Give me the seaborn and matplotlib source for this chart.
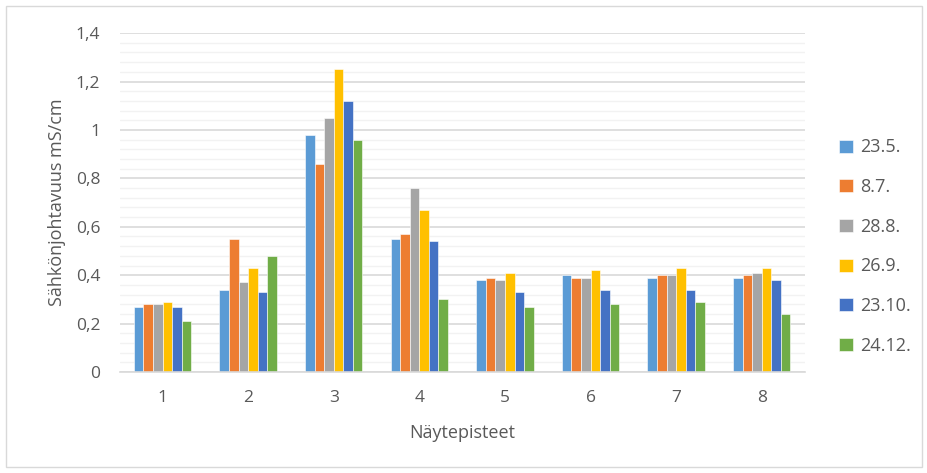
import numpy as np
import pandas as pd
import matplotlib
matplotlib.use("Agg")
import matplotlib.pyplot as plt
import seaborn as sns
from matplotlib.patches import Rectangle
from matplotlib.ticker import MultipleLocator, FuncFormatter

# Sample points and measurement dates
points = ["1", "2", "3", "4", "5", "6", "7", "8"]
dates = ["23.5.", "8.7.", "28.8.", "26.9.", "23.10.", "24.12."]

# Conductivity (mS/cm) per date, one value per sample point
v_23_5 = [0.27, 0.34, 0.98, 0.55, 0.38, 0.40, 0.39, 0.39]
v_8_7 = [0.28, 0.55, 0.86, 0.57, 0.39, 0.39, 0.40, 0.40]
v_28_8 = [0.28, 0.37, 1.05, 0.76, 0.38, 0.39, 0.40, 0.41]
v_26_9 = [0.29, 0.43, 1.25, 0.67, 0.41, 0.42, 0.43, 0.43]
v_23_10 = [0.27, 0.33, 1.12, 0.54, 0.33, 0.34, 0.34, 0.38]
v_24_12 = [0.21, 0.48, 0.96, 0.30, 0.27, 0.28, 0.29, 0.24]

series = [v_23_5, v_8_7, v_28_8, v_26_9, v_23_10, v_24_12]
colors = ["#5B9BD5", "#ED7D31", "#A5A5A5", "#FFC000", "#4472C4", "#70AD47"]

rows = []
for d, vals in zip(dates, series):
    for p, v in zip(points, vals):
        rows.append({"Näytepiste": p, "Päivä": d, "Arvo": v})
df = pd.DataFrame(rows)

sns.set_style("white")
plt.rcParams["font.family"] = ["Open Sans", "DejaVu Sans"]
txt = "#595959"

fig = plt.figure(figsize=(9.28, 4.73), dpi=100, facecolor="white")
ax = fig.add_axes([0.129, 0.2135, 0.738, 0.7165])

sns.barplot(data=df, x="Näytepiste", y="Arvo", hue="Päivä",
            order=points, hue_order=dates, palette=colors,
            width=0.67, gap=0, errorbar=None, ax=ax,
            edgecolor="white", linewidth=0.4, saturation=1)

ax.set_ylim(0, 1.4)
ax.set_xlim(-0.5, 7.5)
ax.yaxis.set_major_locator(MultipleLocator(0.2))
ax.yaxis.set_minor_locator(MultipleLocator(0.04))
ax.yaxis.set_major_formatter(FuncFormatter(
    lambda v, _: ("%g" % round(v, 2)).replace(".", ",")))
ax.grid(axis="y", which="major", color="#D9D9D9", linewidth=1.2)
ax.grid(axis="y", which="minor", color="#F2F2F2", linewidth=1.0)
ax.set_axisbelow(True)
for s in ["top", "right", "left"]:
    ax.spines[s].set_visible(False)
ax.spines["bottom"].set_color("#D9D9D9")
ax.spines["bottom"].set_linewidth(1.2)
ax.tick_params(axis="both", which="both", length=0, labelsize=12.5,
               labelcolor=txt)
ax.tick_params(axis="y", pad=14)
ax.tick_params(axis="x", pad=13)

ax.set_xlabel("Näytepisteet", fontsize=13, color=txt, labelpad=13)
ax.set_ylabel("Sähkönjohtavuus mS/cm", fontsize=13, color=txt, labelpad=7)

leg = ax.legend(loc="center left", bbox_to_anchor=(1.04, 0.37), frameon=False,
                fontsize=13, labelspacing=1.2, handlelength=0.75,
                handleheight=0.75, handletextpad=0.4, borderaxespad=0)
for t in leg.get_texts():
    t.set_color(txt)

fig.patches.append(Rectangle((0.006, 0.012), 0.988, 0.976, transform=fig.transFigure,
                             fill=False, edgecolor="#D9D9D9", linewidth=1))

fig.savefig("out.png", dpi=100)
